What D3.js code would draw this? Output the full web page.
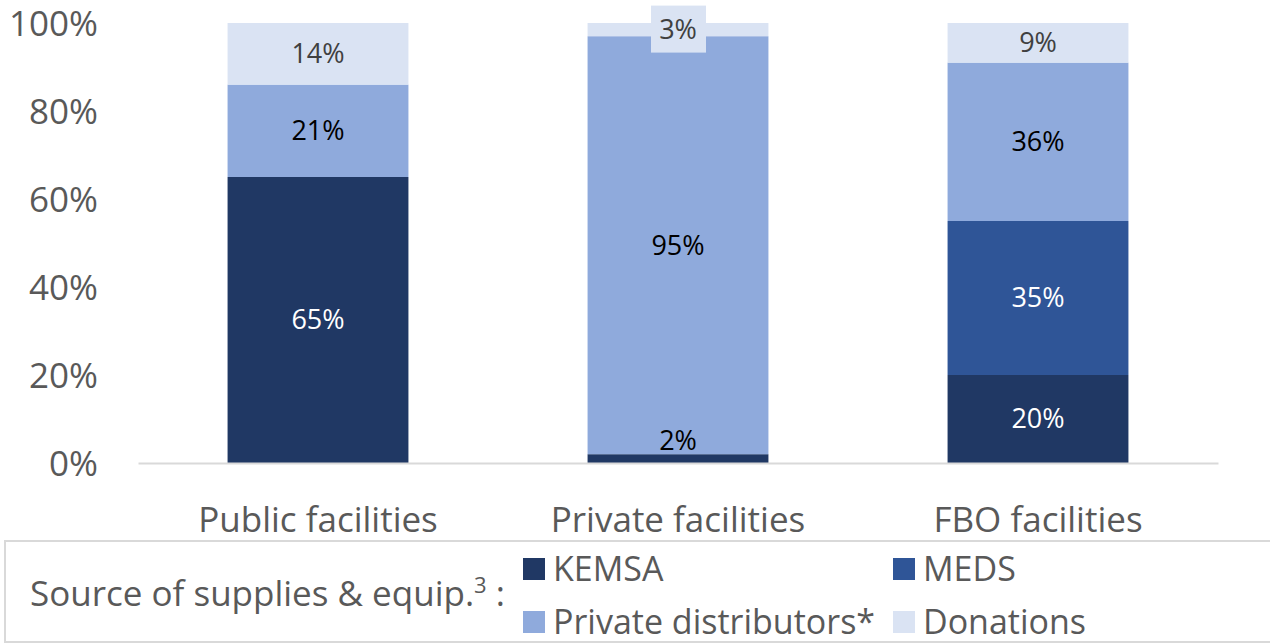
<!DOCTYPE html>
<html>
<head>
<meta charset="utf-8">
<script src="https://cdn.jsdelivr.net/npm/d3@7"></script>
<style>
  body { margin: 0; background: #fff; }
  svg { display: block; font-family: "Open Sans", "Noto Sans", sans-serif; }
</style>
</head>
<body>
<div id="wrapper"></div>
<script>
// data
const categories = ["Public facilities", "Private facilities", "FBO facilities"];
const seriesNames = ["KEMSA", "MEDS", "Private distributors*", "Donations"];
const kemsa = [65, 2, 20];
const meds = [0, 0, 35];
const privateDistributors = [21, 95, 36];
const donations = [14, 3, 9];
const yTicks = [0, 20, 40, 60, 80, 100];

const colors = ["#203864", "#2f5597", "#8faadc", "#dae3f3"];
const labelColors = ["#ffffff", "#ffffff", "#000000", "#404040"];

function drawChart() {
    const dimensions = {
        width: 1270,
        height: 644,
        margin: { top: 23, right: 52, bottom: 181, left: 138 }
    };
    dimensions.boundedWidth = dimensions.width - dimensions.margin.left - dimensions.margin.right;
    dimensions.boundedHeight = dimensions.height - dimensions.margin.top - dimensions.margin.bottom;

    const rows = categories.map((c, i) => ({
        category: c,
        KEMSA: kemsa[i],
        MEDS: meds[i],
        "Private distributors*": privateDistributors[i],
        Donations: donations[i]
    }));
    const stacked = d3.stack().keys(seriesNames)(rows);

    const svg = d3.select("#wrapper").append("svg")
        .attr("width", dimensions.width)
        .attr("height", dimensions.height);

    const bounds = svg.append("g")
        .attr("transform", `translate(${dimensions.margin.left},${dimensions.margin.top})`);

    const xScale = d3.scaleBand()
        .domain(categories)
        .range([0, dimensions.boundedWidth])
        .paddingInner(0.4976)
        .paddingOuter(0.2488);

    const yScale = d3.scaleLinear()
        .domain([0, 100])
        .range([dimensions.boundedHeight, 0]);

    // y axis labels (no line, no ticks)
    const yAxis = bounds.append("g")
        .call(d3.axisLeft(yScale).tickValues(yTicks).tickFormat(d => d + "%").tickSize(0).tickPadding(40));
    yAxis.select(".domain").remove();
    yAxis.selectAll("text")
        .attr("font-size", 35)
        .attr("dy", "0.37em")
        .attr("font-family", "Open Sans, Noto Sans, sans-serif")
        .attr("fill", "#595959");

    // bars
    const layers = bounds.selectAll(".layer")
        .data(stacked)
        .join("g")
        .attr("fill", (d, i) => colors[i]);

    layers.selectAll("rect")
        .data(d => d.filter(s => s[1] - s[0] > 0))
        .join("rect")
        .attr("x", d => xScale(d.data.category))
        .attr("width", xScale.bandwidth())
        .attr("y", d => yScale(d[1]))
        .attr("height", d => yScale(d[0]) - yScale(d[1]));

    // baseline
    const xAxis = bounds.append("g")
        .attr("transform", `translate(0,${dimensions.boundedHeight})`)
        .call(d3.axisBottom(xScale).tickSize(0).tickPadding(44));
    xAxis.select(".domain").attr("stroke", "#d9d9d9").attr("stroke-width", 2);
    xAxis.selectAll("text")
        .attr("font-size", 35)
        .attr("font-family", "Open Sans, Noto Sans, sans-serif")
        .attr("fill", "#595959");

    // data labels
    stacked.forEach((layer, si) => {
        layer.forEach(s => {
            const v = s[1] - s[0];
            if (v <= 0) return;
            const cx = xScale(s.data.category) + xScale.bandwidth() / 2;
            let cy = (yScale(s[0]) + yScale(s[1])) / 2;
            const small = v < 5;
            if (seriesNames[si] === "KEMSA" && small) cy = yScale(s[1]) - 14;
            const g = bounds.append("g").attr("transform", `translate(${cx},${cy})`);
            if (small && seriesNames[si] === "Donations") {
                g.append("rect")
                    .attr("x", -27).attr("y", -24)
                    .attr("width", 55).attr("height", 47)
                    .attr("fill", colors[si]);
            }
            g.append("text")
                .attr("text-anchor", "middle")
                .attr("dy", "0.35em")
                .attr("font-size", 27)
                .attr("fill", seriesNames[si] === "KEMSA" && small ? "#000000" : labelColors[si])
                .text(v + "%");
        });
    });

    // legend
    const legend = svg.append("g");
    legend.append("rect")
        .attr("x", 5).attr("y", 541)
        .attr("width", 1275).attr("height", 101)
        .attr("fill", "none")
        .attr("stroke", "#d9d9d9")
        .attr("stroke-width", 2);

    const title = legend.append("text")
        .attr("x", 30).attr("y", 606)
        .attr("font-size", 35)
        .attr("fill", "#595959");
    title.append("tspan").text("Source of supplies & equip.");
    title.append("tspan").attr("font-size", 22).attr("dy", "-0.6em").text("3");
    title.append("tspan").attr("dy", "0.37em").text(" :");

    const legendPos = [[523, 569], [893, 569], [523, 622], [893, 622]];
    seriesNames.forEach((name, i) => {
        const [lx, ly] = legendPos[i];
        legend.append("rect")
            .attr("x", lx).attr("y", ly - 11)
            .attr("width", 22).attr("height", 22)
            .attr("fill", colors[i]);
        legend.append("text")
            .attr("x", lx + 30).attr("y", ly)
            .attr("dy", "0.35em")
            .attr("font-size", 34)
            .attr("fill", "#595959")
            .text(name);
    });
}

drawChart();
</script>
</body>
</html>
